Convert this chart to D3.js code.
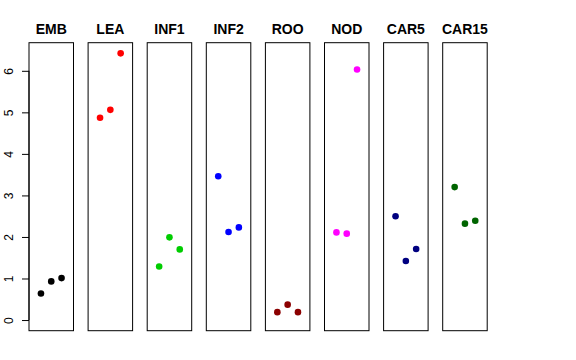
<!DOCTYPE html>
<html><head><meta charset="utf-8">
<script src="https://cdn.jsdelivr.net/npm/d3@7"></script>
<style>body{margin:0;background:#fff}svg{display:block}</style>
</head><body>
<script>
const categories = ["EMB","LEA","INF1","INF2","ROO","NOD","CAR5","CAR15"];
const colors = ["#000000","#FF0000","#00CD00","#0000FF","#8B0000","#FF00FF","#000080","#006400"];
const values = [
  [0.64, 0.93, 1.01],
  [4.87, 5.06, 6.42],
  [1.29, 1.99, 1.70],
  [3.46, 2.12, 2.23],
  [0.19, 0.37, 0.19],
  [2.11, 2.08, 6.03],
  [2.50, 1.42, 1.71],
  [3.20, 2.32, 2.39]
];
const yTicks = [0,1,2,3,4,5,6];

(function(){
const W = 576, H = 360;
const svg = d3.select("body").append("svg").attr("width", W).attr("height", H);

const panelLeft0 = 29, panelStep = 59.1, panelW = 44.5;
const pTop = 42.7, pBottom = 330.7;

const yMax = d3.max(values.flat());
const ext = 0.04 * yMax;
const y = d3.scaleLinear().domain([0 - ext, yMax + ext]).range([pBottom, pTop]);
const x = d3.scaleLinear().domain([-0.16, 4.16]).range([0, panelW]);

categories.forEach((cat, i) => {
  const g = svg.append("g").attr("transform", `translate(${panelLeft0 + i*panelStep},0)`);
  g.append("rect").attr("x", 0).attr("y", pTop).attr("width", panelW).attr("height", pBottom - pTop)
    .attr("fill", "none").attr("stroke", "#000").attr("stroke-width", 1);
  g.append("text").attr("x", panelW/2).attr("y", 34).attr("text-anchor", "middle")
    .attr("font-family", "Liberation Sans, Arial, sans-serif").attr("font-weight", "bold")
    .attr("font-size", 14).text(cat);
  g.selectAll("circle").data(values[i]).enter().append("circle")
    .attr("cx", (d, j) => x(j + 1)).attr("cy", d => y(d)).attr("r", 3.3)
    .attr("fill", colors[i]);
});

const axis = d3.axisLeft(y).tickValues(yTicks).tickSize(7).tickPadding(4).tickFormat(d3.format("d"));
const ax = svg.append("g").attr("transform", `translate(${panelLeft0},0)`).call(axis);
ax.select(".domain").attr("d", `M0,${y(0)}V${y(6)}`).attr("stroke", "#000");
ax.selectAll(".tick line").attr("stroke", "#000");
ax.selectAll(".tick text")
  .attr("font-family", "Liberation Sans, Arial, sans-serif").attr("font-size", 12).attr("fill", "#000")
  .attr("transform", "rotate(-90)")
  .attr("x", 0).attr("y", -16).attr("dy", "0").attr("text-anchor", "middle");
})();
</script>
</body></html>
